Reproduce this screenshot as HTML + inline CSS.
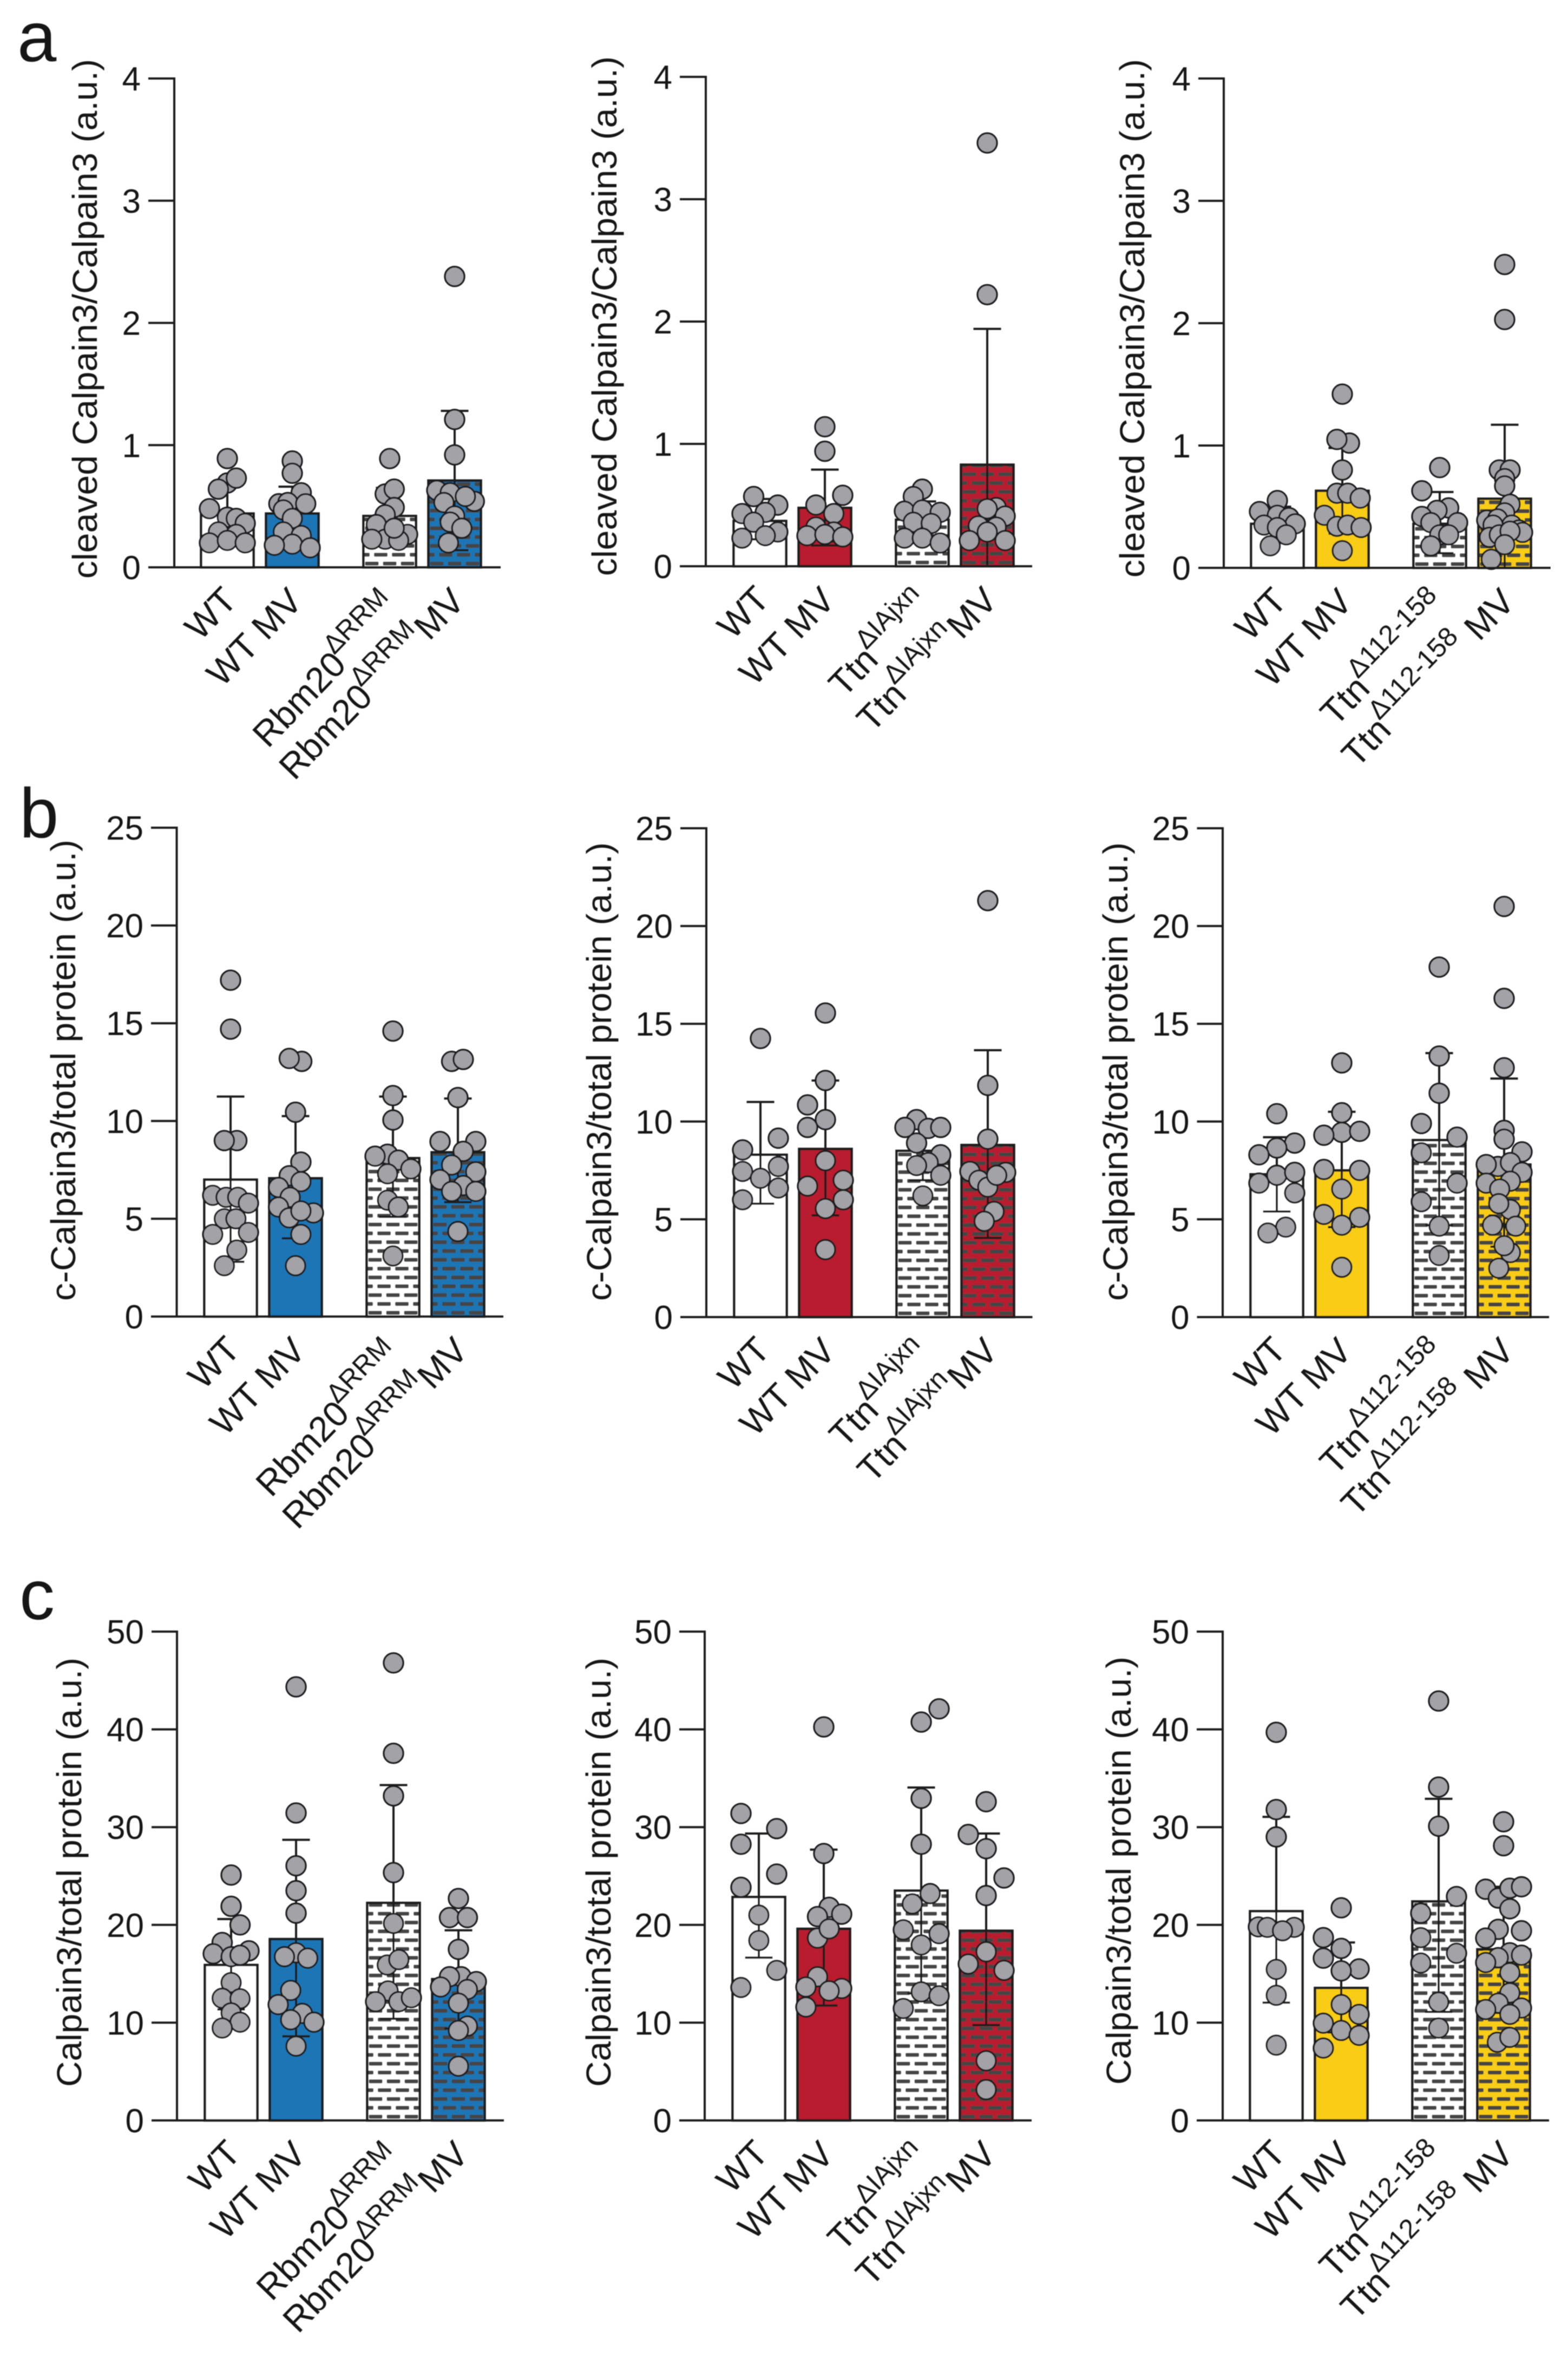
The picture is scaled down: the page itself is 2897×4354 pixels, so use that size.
<!DOCTYPE html>
<html lang="en">
<head>
<meta charset="utf-8">
<title>Calpain3 bar charts</title>
<style>
html,body{margin:0;padding:0;background:#fff;}
svg{display:block;}
text{font-family:"Liberation Sans",Arial,sans-serif;fill:#141414;}
.yt{font-size:64px;}
.xl{font-size:66px;text-anchor:end;}
.sup{font-size:50px;}
.letter{font-size:130px;}
</style>
</head>
<body>
<svg id="figure" xmlns="http://www.w3.org/2000/svg" width="2897" height="4354" viewBox="0 0 2897 4354">
<defs id="defs"><filter id="soft" x="0" y="0" width="100%" height="100%"><feGaussianBlur stdDeviation="0.9"/></filter></defs>
<rect x="0" y="0" width="2897" height="4354" fill="#fff"/>
<g id="root" filter="url(#soft)">
<text class="letter" x="32" y="113">a</text>
<text class="letter" x="36" y="1547">b</text>
<text class="letter" x="36" y="2991">c</text>

<text class="yt" transform="translate(179,1069) rotate(-90)" textLength="960" lengthAdjust="spacingAndGlyphs">cleaved Calpain3/Calpain3 (a.u.)</text>
<text class="yt" transform="translate(1139,1064) rotate(-90)" textLength="960" lengthAdjust="spacingAndGlyphs">cleaved Calpain3/Calpain3 (a.u.)</text>
<text class="yt" transform="translate(2114,1067) rotate(-90)" textLength="958" lengthAdjust="spacingAndGlyphs">cleaved Calpain3/Calpain3 (a.u.)</text>
<text class="yt" transform="translate(139,2403) rotate(-90)" textLength="852" lengthAdjust="spacingAndGlyphs">c-Calpain3/total protein (a.u.)</text>
<text class="yt" transform="translate(1129,2403) rotate(-90)" textLength="847" lengthAdjust="spacingAndGlyphs">c-Calpain3/total protein (a.u.)</text>
<text class="yt" transform="translate(2083,2403) rotate(-90)" textLength="847" lengthAdjust="spacingAndGlyphs">c-Calpain3/total protein (a.u.)</text>
<text class="yt" transform="translate(150,3855) rotate(-90)" textLength="793" lengthAdjust="spacingAndGlyphs">Calpain3/total protein (a.u.)</text>
<text class="yt" transform="translate(1128,3855) rotate(-90)" textLength="793" lengthAdjust="spacingAndGlyphs">Calpain3/total protein (a.u.)</text>
<text class="yt" transform="translate(2089,3851) rotate(-90)" textLength="791" lengthAdjust="spacingAndGlyphs">Calpain3/total protein (a.u.)</text>

<text class="xl" transform="translate(441,1112) rotate(-46)">WT</text>
<text class="xl" transform="translate(562,1114) rotate(-46)">WT MV</text>
<text class="xl" transform="translate(743,1127) rotate(-46)">Rbm20<tspan class="sup" dy="-32" dx="-3">ΔRRM</tspan></text>
<text class="xl" transform="translate(862,1114) rotate(-46)">Rbm20<tspan class="sup" dy="-32" dx="-3">ΔRRM</tspan><tspan dy="32" dx="2">MV</tspan></text>

<text class="xl" transform="translate(1425,1110) rotate(-46)">WT</text>
<text class="xl" transform="translate(1546,1112) rotate(-46)">WT MV</text>
<text class="xl" transform="translate(1724,1120) rotate(-46)">Ttn<tspan class="sup" dy="-32" dx="-3">ΔIAjxn</tspan></text>
<text class="xl" transform="translate(1846,1112) rotate(-46)">Ttn<tspan class="sup" dy="-32" dx="-3">ΔIAjxn</tspan><tspan dy="32" dx="2">MV</tspan></text>

<text class="xl" transform="translate(2381,1113) rotate(-46)">WT</text>
<text class="xl" transform="translate(2502,1115) rotate(-46)">WT MV</text>
<text class="xl" transform="translate(2680,1124) rotate(-46)">Ttn<tspan class="sup" dy="-32" dx="-3">Δ112-158</tspan></text>
<text class="xl" transform="translate(2802,1115) rotate(-46)">Ttn<tspan class="sup" dy="-32" dx="-3">Δ112-158</tspan><tspan dy="32" dx="20">MV</tspan></text>

<text class="xl" transform="translate(447,2496) rotate(-46)">WT</text>
<text class="xl" transform="translate(568,2498) rotate(-46)">WT MV</text>
<text class="xl" transform="translate(749,2511) rotate(-46)">Rbm20<tspan class="sup" dy="-32" dx="-3">ΔRRM</tspan></text>
<text class="xl" transform="translate(868,2498) rotate(-46)">Rbm20<tspan class="sup" dy="-32" dx="-3">ΔRRM</tspan><tspan dy="32" dx="2">MV</tspan></text>

<text class="xl" transform="translate(1426,2497) rotate(-46)">WT</text>
<text class="xl" transform="translate(1547,2499) rotate(-46)">WT MV</text>
<text class="xl" transform="translate(1725,2507) rotate(-46)">Ttn<tspan class="sup" dy="-32" dx="-3">ΔIAjxn</tspan></text>
<text class="xl" transform="translate(1847,2499) rotate(-46)">Ttn<tspan class="sup" dy="-32" dx="-3">ΔIAjxn</tspan><tspan dy="32" dx="2">MV</tspan></text>

<text class="xl" transform="translate(2380,2497) rotate(-46)">WT</text>
<text class="xl" transform="translate(2501,2499) rotate(-46)">WT MV</text>
<text class="xl" transform="translate(2679,2508) rotate(-46)">Ttn<tspan class="sup" dy="-32" dx="-3">Δ112-158</tspan></text>
<text class="xl" transform="translate(2801,2499) rotate(-46)">Ttn<tspan class="sup" dy="-32" dx="-3">Δ112-158</tspan><tspan dy="32" dx="20">MV</tspan></text>

<text class="xl" transform="translate(448,3981) rotate(-46)">WT</text>
<text class="xl" transform="translate(569,3983) rotate(-46)">WT MV</text>
<text class="xl" transform="translate(750,3996) rotate(-46)">Rbm20<tspan class="sup" dy="-32" dx="-3">ΔRRM</tspan></text>
<text class="xl" transform="translate(869,3983) rotate(-46)">Rbm20<tspan class="sup" dy="-32" dx="-3">ΔRRM</tspan><tspan dy="32" dx="2">MV</tspan></text>

<text class="xl" transform="translate(1423,3981) rotate(-46)">WT</text>
<text class="xl" transform="translate(1544,3983) rotate(-46)">WT MV</text>
<text class="xl" transform="translate(1722,3991) rotate(-46)">Ttn<tspan class="sup" dy="-32" dx="-3">ΔIAjxn</tspan></text>
<text class="xl" transform="translate(1844,3983) rotate(-46)">Ttn<tspan class="sup" dy="-32" dx="-3">ΔIAjxn</tspan><tspan dy="32" dx="2">MV</tspan></text>

<text class="xl" transform="translate(2379,3981) rotate(-46)">WT</text>
<text class="xl" transform="translate(2500,3983) rotate(-46)">WT MV</text>
<text class="xl" transform="translate(2678,3992) rotate(-46)">Ttn<tspan class="sup" dy="-32" dx="-3">Δ112-158</tspan></text>
<text class="xl" transform="translate(2800,3983) rotate(-46)">Ttn<tspan class="sup" dy="-32" dx="-3">Δ112-158</tspan><tspan dy="32" dx="20">MV</tspan></text>
</g>
</svg>
<script>
// Tick values per row of panels
const aTicks=[0,1,2,3,4];
const bTicks=[0,5,10,15,20,25];
const cTicks=[0,10,20,30,40,50];

// Category order on every x axis (in bar-spacing units)
const categoryPositions=[0,1,2.5,3.5];

// Panel a1
const a1Means=[0.44,0.44,0.42,0.71];
const a1Upper=[0.68,0.66,0.65,1.28];
const a1Lower=[0.20,0.21,0.19,0.14];
const a1Points=[
[0.89,0.69,0.73,0.64,0.48,0.41,0.40,0.36,0.29,0.27,0.20,0.22,0.20],
[0.87,0.77,0.61,0.52,0.53,0.52,0.47,0.40,0.29,0.26,0.19,0.18,0.16],
[0.89,0.60,0.64,0.49,0.43,0.35,0.23,0.27,0.23,0.22,0.32],
[2.38,1.21,0.92,0.63,0.61,0.54,0.58,0.53,0.42,0.37,0.32,0.20]];
const a1Slots=[
[0,0,1,-1,-2,0,1,2,-1,1,-2,0,2],
[0,0,1,-1.5,-0.5,1.5,-1,0,-1,1,0,-2,2],
[0,-0.5,0.5,0.5,-0.5,-1.5,-0.5,2,-2,1,0.5],
[0,0,0,-2,-0.5,2.2,1.2,-1.2,0,-0.5,0.8,-0.7]];

// Panel a2
const a2Means=[0.37,0.477,0.38,0.83];
const a2Upper=[0.55,0.79,0.53,1.94];
const a2Lower=[0.22,0.17,0.22,0];
const a2Points=[
[0.57,0.50,0.43,0.44,0.36,0.28,0.25,0.23],
[1.14,0.94,0.58,0.50,0.43,0.32,0.28,0.25,0.26,0.24],
[0.63,0.57,0.45,0.46,0.44,0.36,0.35,0.23,0.23,0.19],
[3.46,2.22,0.48,0.47,0.41,0.33,0.32,0.28,0.21,0.21]];
const a2Slots=[
[-0.7,2,-2,0.6,-0.7,2,0.6,-2],
[0,0,2,-1,1,-1,1,-2,0,2],
[0,-1,-2,0,2,-1,1,-2,0,2],
[0,0,1,0,2,-1,1,0,-2,2]];

// Panel a3
const a3Means=[0.36,0.63,0.36,0.565];
const a3Upper=[0.50,0.98,0.62,1.17];
const a3Lower=[0.22,0.28,0.12,0];
const a3Points=[
[0.55,0.46,0.43,0.41,0.35,0.36,0.33,0.27,0.18],
[1.42,1.02,1.05,0.80,0.61,0.61,0.57,0.43,0.34,0.35,0.33,0.14],
[0.82,0.63,0.49,0.47,0.42,0.37,0.37,0.27,0.27,0.18],
[2.48,2.03,0.80,0.80,0.73,0.67,0.52,0.45,0.39,0.40,0.35,0.35,0.31,0.25,0.29,0.27,0.30,0.19,0.07]];
const a3Slots=[
[0,-2,0,1.3,-1.5,2,0,1,-0.8],
[0,0.8,-0.6,0,-0.6,0.6,2,-2,-0.6,0.6,2.1,0],
[0,-2,1,-0.3,-2,2,-1,0,1,-1],
[0,0,-0.6,0.6,0,0,0.6,0,-2,-0.8,0.8,-1.3,1.6,-1.7,2,-0.6,0.6,0,-1.5]];

// Panel b1
const b1Means=[7.0,7.07,8.1,8.4];
const b1Upper=[11.25,10.25,11.25,11.15];
const b1Lower=[2.8,4.0,5.1,5.85];
const b1Points=[
[17.2,14.7,9.0,9.0,6.2,6.1,6.1,5.8,5.0,5.0,4.2,4.3,3.4,2.6],
[13.05,13.2,10.45,7.9,7.2,6.9,6.6,6.1,5.6,5.05,5.3,5.4,4.2,2.6],
[14.6,11.3,10.05,8.3,8.2,8.0,7.55,7.3,5.95,5.6,3.1],
[13.05,13.15,11.2,8.95,8.95,8.45,7.75,7.4,7.0,6.7,6.4,6.4,4.35]];
const b1Slots=[
[0,0,0.7,-0.7,-2,-0.5,0.8,2,-0.7,0.6,-2,2,0.7,-0.7],
[0.7,-0.7,0,0.6,-0.7,0.6,-1.9,-0.6,-1.9,-0.7,2,0.6,0.6,0],
[0,0,0,-0.6,-2,0.6,2,-0.6,-0.6,0.6,0],
[-0.7,0.6,0,-2,2,0.6,-0.7,2,-2,0.6,-0.7,2,0]];

// Panel b2
const b2Means=[8.3,8.6,8.5,8.8];
const b2Upper=[11.0,12.1,10.0,13.65];
const b2Lower=[5.8,5.2,7.0,4.05];
const b2Points=[
[14.25,9.15,8.55,7.7,7.45,7.1,6.6,6.0],
[15.55,12.1,10.85,10.1,9.7,8.0,7.0,6.7,6.0,5.55,3.45],
[10.1,9.7,9.65,9.7,8.9,8.3,7.9,7.75,7.25,6.2],
[21.3,11.85,9.1,7.45,7.4,7.0,6.65,7.25,5.4,4.9]];
const b2Slots=[
[0,2,-2,2,-2,0,2,-2],
[0,0,-2,0,-2,0,2,-2,2,0,0],
[-0.7,-2,0.6,2,-0.7,2,0.6,-0.7,2,0],
[0,0,0,-2,2,-1,0,1,0.7,-0.4]];

// Panel b3
const b3Means=[7.3,7.5,9.05,7.8];
const b3Upper=[9.2,10.5,13.5,12.2];
const b3Lower=[5.4,4.6,4.7,3.6];
const b3Points=[
[10.4,8.9,8.65,8.3,7.25,7.4,6.85,6.35,4.6,4.3],
[13.0,10.45,9.45,9.3,9.5,7.55,7.5,6.55,5.25,5.1,4.7,2.55],
[17.9,13.35,11.45,9.9,9.2,8.4,6.85,5.9,4.65,3.15],
[21,16.3,12.75,9.55,9.1,8.45,7.7,7.9,7.8,7.4,6.95,6.85,6.55,5.5,5.8,4.7,4.65,3.3,3.65,2.5]];
const b3Slots=[
[0,2,0,-2,0,2,-2,2,1,-1],
[0,0,0,-2,2,-2,2,0,-2,2,0,0],
[0,0,0,-2,2,-2,2,-2,0,0],
[0,0,0,0,0,2,-0.7,0.7,-2,2,0.7,-2,-0.5,0.7,-0.6,-1.3,1.3,0.7,0,-0.6]];

// Panel c1
const c1Means=[15.9,18.55,22.25,14.45];
const c1Upper=[20.6,28.7,34.3,19.45];
const c1Lower=[11.35,8.6,10.4,9.4];
const c1Points=[
[25.1,21.9,20.0,18.2,17.05,17.35,16.75,16.9,14.1,12.5,12.45,11.0,10.05,9.45],
[44.35,31.45,26.05,23.5,21.2,17.15,16.6,16.75,13.3,11.85,10.95,10.3,10.05,7.6],
[46.8,37.55,33.2,25.35,20.15,15.9,16.45,13.25,12.15,12.15,12.55],
[22.7,20.75,20.75,17.5,14.7,14.7,14.2,13.65,13.4,12,9.65,9.2,5.55]];
const c1Slots=[
[0,0,1,-1,-2,2,0,1,0,-1,1,0,1,-1],
[0,0,0,0,0,0,1.3,-1.3,-0.6,-2,0.7,-0.6,2,0],
[0,0,0,0,0,-0.7,0.6,-0.6,-2,0.6,2],
[0,-1,1,0,0.3,-1,2,-2,1,0,1,0,0]];

// Panel c2
const c2Means=[22.85,19.6,23.5,19.4];
const c2Upper=[29.35,27.7,34.05,29.35];
const c2Lower=[16.65,11.75,13.0,9.75];
const c2Points=[
[31.4,29.85,28.25,25.2,23.85,21.0,18.4,15.35,13.6],
[40.25,27.3,21.8,20.85,21.1,18.65,19.6,14.7,13.5,13.65,13.25,11.6],
[42.1,40.75,32.95,28.25,23.2,22.15,19.5,19.1,17.95,13.15,12.75,11.45],
[32.6,29.25,27.8,24.8,23.0,17.25,16.0,15.35,6.1,3.15]];
const c2Slots=[
[-2,2,-2,2,-2,0,0,2,-2],
[0,0,0.6,-0.7,2,-0.7,0.6,-0.7,2,-2,0.6,-2],
[2,0,0,0,1,-1,-2,2,0,0,2,-2],
[0,-2,0,2,0,0,-2,2,0,0]];

// Panel c3
const c3Means=[21.4,13.55,22.4,17.5];
const c3Upper=[31.05,18.2,32.9,23.9];
const c3Lower=[12.05,9.0,11.1,11.0];
const c3Points=[
[39.7,31.8,29.0,19.8,19.75,19.75,19.4,15.45,12.8,7.7],
[21.75,18.7,17.6,16.6,15.5,15.3,11.85,10.85,9.95,9.2,8.7,7.4],
[42.9,34.1,30.1,22.9,21.2,18.7,17.1,16.1,12.1,9.45],
[30.55,28.1,23.65,22.75,23.75,23.9,21.65,19.55,19.4,18.65,17.15,16.65,16.9,16.15,15.1,13.05,12.0,11.35,11.5,10.85,8.0,8.5]];
const c3Slots=[
[0,0,0,-2,-1,2,0.7,0,0,0],
[0,-2,0,-2,2,0,0,2,-2,0,2,-2],
[0,0,0,2,-2,-2,2,-2,0,0],
[0,0,-2,-0.6,0.7,2,0.7,-0.6,2,-2,0.7,-0.6,2,-2,0.7,0.7,-0.6,-2,2,0.7,-0.7,0.7]];

// Layout only: axis geometry and colours
const BLUE='#1f76b6',RED='#b81d2d',YELLOW='#f9cc14';
const layouts=[
{id:'a1',axisX:322,top:145,base:1048,tickLeft:274,right:925,first:420,color:BLUE,ticks:aTicks,means:a1Means,upper:a1Upper,lower:a1Lower,points:a1Points,slots:a1Slots},
{id:'a2',axisX:1304,top:142,base:1046,tickLeft:1256,right:1907,first:1404,color:RED,ticks:aTicks,means:a2Means,upper:a2Upper,lower:a2Lower,points:a2Points,slots:a2Slots},
{id:'a3',axisX:2261,top:145,base:1049,tickLeft:2214,right:2865,first:2360,color:YELLOW,ticks:aTicks,means:a3Means,upper:a3Upper,lower:a3Lower,points:a3Points,slots:a3Slots},
{id:'b1',axisX:326.5,top:1529,base:2432,tickLeft:279,right:930,first:426,color:BLUE,ticks:bTicks,means:b1Means,upper:b1Upper,lower:b1Lower,points:b1Points,slots:b1Slots},
{id:'b2',axisX:1305,top:1530,base:2433,tickLeft:1257,right:1907.5,first:1405,color:RED,ticks:bTicks,means:b2Means,upper:b2Upper,lower:b2Lower,points:b2Points,slots:b2Slots},
{id:'b3',axisX:2259,top:1530,base:2433,tickLeft:2211.5,right:2862,first:2359,color:YELLOW,ticks:bTicks,means:b3Means,upper:b3Upper,lower:b3Lower,points:b3Points,slots:b3Slots},
{id:'c1',axisX:327,top:3014,base:3917,tickLeft:280,right:931,first:427,color:BLUE,ticks:cTicks,means:c1Means,upper:c1Upper,lower:c1Lower,points:c1Points,slots:c1Slots},
{id:'c2',axisX:1302,top:3014,base:3917,tickLeft:1255,right:1906,first:1402,color:RED,ticks:cTicks,means:c2Means,upper:c2Upper,lower:c2Lower,points:c2Points,slots:c2Slots},
{id:'c3',axisX:2259,top:3014,base:3917,tickLeft:2211,right:2862,first:2358,color:YELLOW,ticks:cTicks,means:c3Means,upper:c3Upper,lower:c3Lower,points:c3Points,slots:c3Slots}
];

const NS='http://www.w3.org/2000/svg';
const root=document.getElementById('root');
const defs=document.getElementById('defs');
const BAR_W=97,CAT_STEP=120,SLOT_W=16.5,CAP_W=51,DOT_R=18;
const INK='#1c1c1c';

function make(tag,attrs,parent){
  const el=document.createElementNS(NS,tag);
  for(const k in attrs){el.setAttribute(k,attrs[k]);}
  parent.appendChild(el);
  return el;
}

function drawPanel(p){
  const maxV=p.ticks[p.ticks.length-1];
  const y=function(v){return p.base-(v/maxV)*(p.base-p.top);};
  const x=function(i){return p.first+categoryPositions[i]*CAT_STEP;};

  const g=make('g',{},root);
  
  

  p.means.forEach(function(mean,i){
    const left=x(i)-BAR_W/2;
    const fill=(i%2===0)?'#ffffff':p.color;
    const bar=make('rect',{x:left,y:y(mean),width:BAR_W,height:p.base-y(mean),fill:fill,stroke:'none'},g);
    
    
    if(i>=2){
      const pid='hatch-'+p.id+'-'+i;
      const pat=make('pattern',{id:pid,patternUnits:'userSpaceOnUse',width:33,height:32.6,patternTransform:'translate('+(left+3)+','+(p.base-3.5-7)+')'},defs);
      make('rect',{x:0,y:0,width:25,height:7,rx:2,fill:'#444'},pat);
      make('rect',{x:16.5,y:16.3,width:25,height:7,rx:2,fill:'#444'},pat);
      make('rect',{x:-16.5,y:16.3,width:25,height:7,rx:2,fill:'#444'},pat);
      const hatch=make('rect',{x:left,y:y(mean),width:BAR_W,height:p.base-y(mean),fill:'url(#'+pid+')'},g);
      
      
    }
    const outline=make('rect',{x:left,y:y(mean),width:BAR_W,height:p.base-y(mean),fill:'none',stroke:INK,'stroke-width':4.5},g);
    
    
  });

  p.means.forEach(function(mean,i){
    const cx=x(i);
    const err=make('path',{d:'M'+cx+' '+y(p.lower[i])+'V'+y(p.upper[i])+
      'M'+(cx-CAP_W/2)+' '+y(p.upper[i])+'H'+(cx+CAP_W/2)+
      (p.lower[i]>0?'M'+(cx-CAP_W/2)+' '+y(p.lower[i])+'H'+(cx+CAP_W/2):''),
      fill:'none',stroke:INK,'stroke-width':4},g);
    
    
  });

  p.points.forEach(function(vals,i){
    vals.forEach(function(v,j){
      const dot=make('circle',{cx:x(i)+p.slots[i][j]*SLOT_W,cy:y(v),r:DOT_R,fill:'#a2a2a7',stroke:INK,'stroke-width':3.4},g);
      
      
    });
  });

  const axisY=make('line',{x1:p.axisX,x2:p.axisX,y1:p.top-2,y2:p.base+2,stroke:INK,'stroke-width':4},g);
  
  
  const axisX=make('line',{x1:p.tickLeft,x2:p.right,y1:p.base,y2:p.base,stroke:INK,'stroke-width':4},g);
  
  

  p.ticks.forEach(function(t){
    if(t!==0){
      const tick=make('line',{x1:p.tickLeft,x2:p.axisX,y1:y(t),y2:y(t),stroke:INK,'stroke-width':4},g);
      
      
    }
    const label=make('text',{x:p.tickLeft-14,y:y(t)+22,'text-anchor':'end','font-size':62},g);
    label.textContent=String(t);
    
    
  });
}

layouts.forEach(drawPanel);
</script>
</body>
</html>
